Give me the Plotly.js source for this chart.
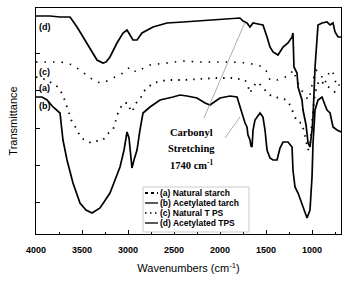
<!DOCTYPE html>
<html>
<head>
<meta charset="utf-8">
<script src="https://cdn.plot.ly/plotly-3.0.1.min.js"></script>
<style>html,body{margin:0;padding:0;background:#fff;}#chart{width:345px;height:283px;}</style>
</head>
<body>
<div id="chart"></div>
<script>
// Wavenumber (cm^-1) and transmittance (arbitrary, stacked)
const dWn = [4000,3848,3739,3630,3554,3500,3446,3391,3337,3272,3239,3196,3120,3054,3011,2978,2946,2902,2848,2728,2576,2402,2217,2033,1859,1783,1750,1707,1674,1641,1587,1533,1489,1457,1424,1370,1315,1261,1217,1207,1196,1163,1152,1109,1098,1065,1043,1022,1000,989,967,935,891,837,804,772,750,717,685];
const dT  = [218,218,217,217,207,199,191,182,174,171,172,177,191,201,204,199,194,194,201,207,211,212,213,214,215,216,213,211,207,211,210,209,197,187,182,179,187,191,197,201,167,161,147,134,124,109,91,87,104,117,167,209,211,212,209,211,202,197,197];

const bWn = [4000,3935,3880,3815,3739,3707,3663,3598,3522,3457,3391,3304,3196,3141,3087,3043,3022,3011,2989,2967,2957,2935,2902,2870,2837,2761,2652,2511,2435,2359,2250,2163,2109,2000,1891,1815,1783,1750,1728,1707,1696,1674,1663,1652,1641,1620,1565,1533,1511,1489,1457,1424,1380,1348,1315,1261,1217,1207,1185,1152,1109,1076,1054,1022,1000,989,967,935,891,859,837,804,772,728,685];
const bT  = [137,137,134,127,121,94,74,51,31,24,21,26,41,54,67,84,99,102,96,74,66,74,84,104,121,127,134,137,139,138,136,131,129,136,138,137,127,117,111,107,99,94,88,87,104,114,121,117,104,84,76,74,74,86,92,92,87,64,47,41,29,21,16,24,57,91,124,134,137,129,124,121,107,104,102];

const aWn = [4000,3880,3815,3761,3707,3674,3641,3609,3565,3511,3402,3337,3272,3228,3163,3109,3054,3000,2967,2946,2913,2870,2837,2728,2576,2402,2217,2033,1859,1728,1696,1674,1641,1598,1533,1489,1424,1348,1272,1239,1207,1185,1163,1109,1076,1043,1022,1000,978,946,913,859,804,750,685];
const aT  = [157,154,150,147,139,131,121,112,106,96,91,93,94,100,104,121,131,131,122,124,131,134,142,151,154,154,155,156,156,154,148,141,147,152,147,141,137,136,134,129,122,116,112,111,99,84,89,109,134,149,154,149,146,142,142];

const cWn = [4000,3848,3728,3598,3522,3457,3348,3272,3163,3054,2978,2913,2761,2576,2402,2217,2033,1859,1707,1598,1533,1489,1457,1380,1315,1239,1207,1174,1130,1076,1043,1022,989,957,913,859,804,772,728,685];
const cT  = [172,172,172,169,164,159,152,151,156,161,167,162,169,171,173,172,172,172,171,169,167,162,154,154,156,159,164,156,146,139,134,139,154,164,161,151,164,161,147,151];

const xTickVals = [4000,3500,3000,2500,2000,1500,1000];
const xTickText = ['4000','3500','3000','2500','2000','1500','1000'];
const yTickVals = [32,69,106,144,181];

const legendNames = ['(a) Natural starch','(b) Acetylated tarch','(c) Natural T PS','(d) Acetylated TPS'];
const curveLabels = ['(a)','(b)','(c)','(d)'];

const traces = [
  {x:aWn, y:aT, name:legendNames[0], mode:'lines', line:{color:'#000', width:1.8, dash:'1.5px,6px'}},
  {x:bWn, y:bT, name:legendNames[1], mode:'lines', line:{color:'#000', width:1.7}},
  {x:cWn, y:cT, name:legendNames[2], mode:'lines', line:{color:'#000', width:1.6, dash:'1.5px,7px'}},
  {x:dWn, y:dT, name:legendNames[3], mode:'lines', line:{color:'#000', width:1.7}}
];

// plot-area pixel helpers for paper coordinates
const L = 36, T = 8, W = 305, H = 226;
const px = p => (p - L) / W;
const py = p => (T + H - p) / H;

const shapes = [
  // pointer lines for the carbonyl annotation
  {type:'line', xref:'x', yref:'y', x0:2174, y0:116, x1:1728, y1:212, line:{color:'#999', width:0.8}},
  {type:'line', xref:'x', yref:'y', x0:1946, y0:96, x1:1783, y1:117, line:{color:'#999', width:0.8}},
  // legend box
  {type:'rect', xref:'paper', yref:'paper', x0:px(143), x1:px(249), y0:py(232), y1:py(187), line:{color:'#aaa', width:0.6}, fillcolor:'#fff'}
];
const legendRows = [193,203,213,223];
const legendDash = ['3px,3px','solid','1.5px,3.5px','solid'];
const legendWidth = [2.2,1.3,1.5,1.3];
legendRows.forEach((r,i)=>{
  shapes.push({type:'line', xref:'paper', yref:'paper', x0:px(145), x1:px(158), y0:py(r), y1:py(r), line:{color:'#000', width:legendWidth[i], dash:legendDash[i]}});
});

const annotations = [];
legendRows.forEach((r,i)=>{
  annotations.push({xref:'paper', yref:'paper', x:px(158), y:py(r), xanchor:'left', yanchor:'middle', showarrow:false, text:legendNames[i], font:{family:'Liberation Sans, Arial', size:8.5, weight:'bold', color:'#000'}});
});
const labelY = [146,128,162,207];
curveLabels.forEach((t,i)=>{
  annotations.push({xref:'paper', yref:'y', x:px(37), y:labelY[i], xanchor:'left', yanchor:'middle', showarrow:false, text:t, font:{family:'Liberation Sans, Arial', size:9, weight:'bold', color:'#000'}});
});
const serif = {family:'Liberation Serif, Times New Roman', size:10.5, weight:'bold', color:'#000'};
annotations.push({xref:'x', yref:'paper', x:2315, y:py(132), showarrow:false, text:'Carbonyl', font:serif, xanchor:'center', yanchor:'middle'});
annotations.push({xref:'x', yref:'paper', x:2315, y:py(148), showarrow:false, text:'Stretching', font:serif, xanchor:'center', yanchor:'middle'});
annotations.push({xref:'x', yref:'paper', x:2315, y:py(164), showarrow:false, text:'1740 cm<sup>-1</sup>', font:serif, xanchor:'center', yanchor:'middle'});

const layout = {
  width:345, height:283,
  margin:{l:36, r:4, t:8, b:49},
  paper_bgcolor:'#fff', plot_bgcolor:'#fff',
  showlegend:false,
  font:{family:'Liberation Sans, Arial', color:'#000'},
  xaxis:{
    range:[4000,685], tickmode:'array', tickvals:xTickVals, ticktext:xTickText,
    ticks:'inside', ticklen:4, tickwidth:1, tickcolor:'#000',
    tickfont:{size:9, weight:'bold'}, ticklabelstandoff:7,
    minor:{tickmode:'linear', tick0:0, dtick:250, ticks:'inside', ticklen:2.5, tickcolor:'#000'},
    showline:true, linewidth:1.3, linecolor:'#000', mirror:true,
    showgrid:false, zeroline:false, automargin:false,
    title:{text:'Wavenumbers (cm<sup>-1</sup>)', font:{size:11}, standoff:10}
  },
  yaxis:{
    range:[0,226], tickmode:'array', tickvals:yTickVals, showticklabels:false,
    ticks:'inside', ticklen:4, tickwidth:1, tickcolor:'#000',
    showline:true, linewidth:1.3, linecolor:'#000', mirror:true,
    showgrid:false, zeroline:false, automargin:false,
    title:{text:'Transmittance', font:{size:11}, standoff:15}
  },
  shapes:shapes,
  annotations:annotations
};

Plotly.newPlot('chart', traces, layout, {staticPlot:true, displayModeBar:false});
</script>
</body>
</html>
